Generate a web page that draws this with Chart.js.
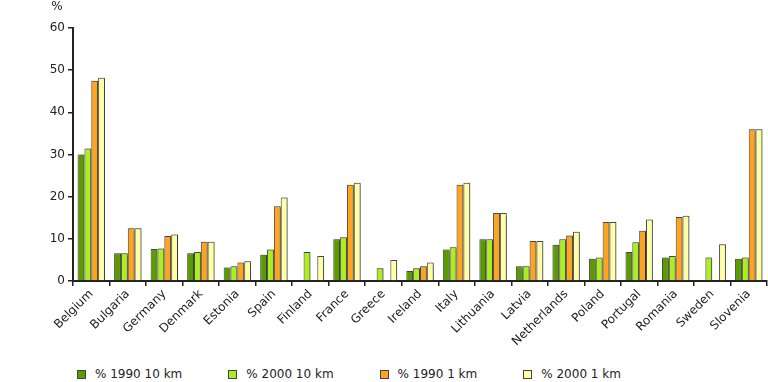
<!DOCTYPE html>
<html>
<head>
<meta charset="utf-8">
<script src="https://cdn.jsdelivr.net/npm/chart.js@4/dist/chart.umd.min.js"></script>
<style>
  html, body { margin: 0; padding: 0; background: #fff; }
  #wrap { position: relative; width: 768px; height: 382px; }
  #box { position: absolute; left: 0; top: 0; width: 768px; height: 358px; }
  #legend { position: absolute; left: 77px; top: 367px; display: flex; align-items: center;
            font-family: "DejaVu Sans", Verdana, sans-serif; font-size: 12px; color: #222; }
  .item { display: flex; align-items: center; margin-right: 46px; }
  .sw { width: 9px; height: 9px; border: 1px solid #444; margin-right: 9px; box-sizing: border-box; }
</style>
</head>
<body>
<div id="wrap">
  <div id="box"><canvas id="c"></canvas></div>
  <div id="legend"></div>
</div>
<script>
const countries = ["Belgium","Bulgaria","Germany","Denmark","Estonia","Spain","Finland","France","Greece","Ireland","Italy","Lithuania","Latvia","Netherlands","Poland","Portugal","Romania","Sweden","Slovenia"];
const seriesNames = ["% 1990 10 km","% 2000 10 km","% 1990 1 km","% 2000 1 km"];
const pct1990_10km = [30.0, 6.6, 7.6, 6.6, 3.2, 6.2, null, 9.9, null, 2.4, 7.5, 9.9, 3.5, 8.6, 5.3, 6.9, 5.6, null, 5.3];
const pct2000_10km = [31.4, 6.6, 7.7, 6.9, 3.5, 7.5, 6.9, 10.4, 3.0, 3.0, 8.0, 9.9, 3.5, 9.9, 5.6, 9.2, 5.9, 5.6, 5.6];
const pct1990_1km  = [47.5, 12.5, 10.7, 9.3, 4.4, 17.7, null, 22.8, null, 3.5, 22.8, 16.1, 9.5, 10.8, 14.0, 11.9, 15.2, null, 36.0];
const pct2000_1km  = [48.2, 12.5, 11.0, 9.3, 4.7, 19.8, 5.9, 23.3, 5.0, 4.4, 23.3, 16.1, 9.5, 11.7, 14.0, 14.6, 15.5, 8.7, 36.0];
const yTicks = [0, 10, 20, 30, 40, 50, 60];
const colors = ["#5a9c00", "#acee1e", "#ffa41e", "#ffffa6"];

const FONT = '"DejaVu Sans", Verdana, sans-serif';
const values = [pct1990_10km, pct2000_10km, pct1990_1km, pct2000_1km];
const datasets = values.map((v, i) => ({
  label: seriesNames[i],
  data: v,
  backgroundColor: colors[i],
  borderColor: "#4a4a4a",
  borderWidth: 1,
  borderSkipped: "bottom",
  barPercentage: 1.0,
  categoryPercentage: 0.75
}));

const percentLabel = {
  id: "percentLabel",
  afterDraw(chart) {
    const ctx = chart.ctx;
    ctx.save();
    ctx.font = "12px " + FONT;
    ctx.fillStyle = "#222";
    ctx.textAlign = "center";
    ctx.textBaseline = "middle";
    ctx.fillText("%", chart.chartArea.left - 16, 7);
    ctx.restore();
  }
};
const shadow = {
  id: "shadow",
  beforeDatasetsDraw(chart) {
    const ctx = chart.ctx;
    ctx.save();
    ctx.shadowColor = "rgba(0,0,0,0.35)";
    ctx.shadowOffsetX = 1;
    ctx.shadowOffsetY = 0;
    ctx.shadowBlur = 1;
  },
  afterDatasetsDraw(chart) { chart.ctx.restore(); }
};

new Chart(document.getElementById("c"), {
  type: "bar",
  data: { labels: countries, datasets },
  options: {
    responsive: true,
    maintainAspectRatio: false,
    animation: false,
    layout: { padding: { top: 28, right: 1, left: 0, bottom: 0 } },
    plugins: { legend: { display: false }, tooltip: { enabled: false } },
    scales: {
      x: {
        grid: { display: true, drawOnChartArea: false, drawTicks: true, tickLength: 5, color: "#222", lineWidth: 1.5, offset: true },
        border: { display: true, color: "#222", width: 2 },
        ticks: { maxRotation: 45, minRotation: 45, autoSkip: false, padding: 1, color: "#222", font: { family: FONT, size: 12 } },
        afterFit(scale) { scale.height = 77; }
      },
      y: {
        min: 0, max: 60,
        afterBuildTicks(scale) { scale.ticks = yTicks.map(v => ({ value: v })); },
        grid: { display: true, drawOnChartArea: false, drawTicks: true, tickLength: 5, color: "#222", lineWidth: 1.5 },
        border: { display: true, color: "#222", width: 2 },
        ticks: { padding: 3, color: "#222", font: { family: FONT, size: 12 } },
        afterFit(scale) { scale.width = 73; }
      }
    }
  },
  plugins: [percentLabel, shadow]
});

const lg = document.getElementById("legend");
seriesNames.forEach((n, i) => {
  const it = document.createElement("div");
  it.className = "item";
  const sw = document.createElement("div");
  sw.className = "sw";
  sw.style.background = colors[i];
  const tx = document.createElement("span");
  tx.textContent = n;
  it.appendChild(sw); it.appendChild(tx);
  lg.appendChild(it);
});
</script>
</body>
</html>
